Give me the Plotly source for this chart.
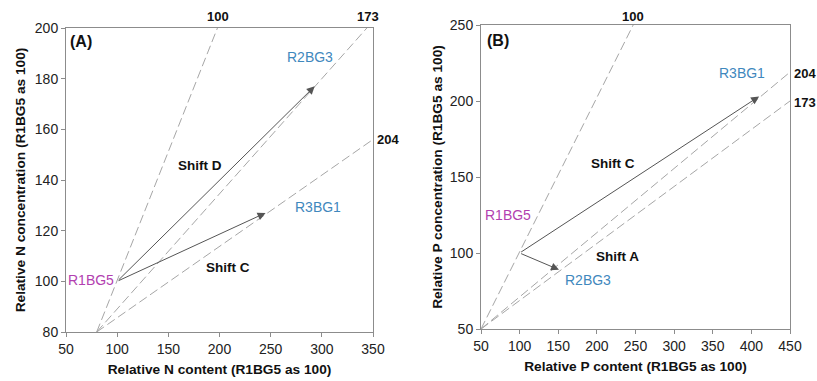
import plotly.graph_objects as go

# ---------------- data ----------------
# Panel A (N)
refA_labels = ["100", "173", "204"]
refA_x0, refA_y0 = 80, 80
refA_x1 = [198, 344, 350]
refA_y1 = [200, 200, 156]

start_A = (100, 100)
arrowA_names = ["R2BG3", "R3BG1"]
arrowA_x = [293, 245]
arrowA_y = [177, 127]

# Panel B (P)
refB_labels = ["100", "204", "173"]
refB_x0, refB_y0 = 50, 50
refB_x1 = [247, 450, 450]
refB_y1 = [250, 219, 200]

start_B = (100, 100)
arrowB_names = ["R3BG1", "R2BG3"]
arrowB_x = [410, 151]
arrowB_y = [203, 89]

xticksA = [50, 100, 150, 200, 250, 300, 350]
yticksA = [80, 100, 120, 140, 160, 180, 200]
xticksB = [50, 100, 150, 200, 250, 300, 350, 400, 450]
yticksB = [50, 100, 150, 200, 250]

RANGES = {"": ([50, 350], [80, 200]), "2": ([50, 450], [50, 250])}

FONT = "Liberation Sans, Arial, sans-serif"
DASH_COL = "#a6a6a6"
ARROW_COL = "#555555"
BLUE = "#3f88bd"
MAGENTA = "#b23fb0"

fig = go.Figure()

# reference dashed lines
for i in range(len(refA_labels)):
    fig.add_trace(go.Scatter(x=[refA_x0, refA_x1[i]], y=[refA_y0, refA_y1[i]],
                             mode="lines", line=dict(color=DASH_COL, width=1, dash="9px,4px"),
                             xaxis="x", yaxis="y", showlegend=False, hoverinfo="skip",
                             cliponaxis=False))
for i in range(len(refB_labels)):
    fig.add_trace(go.Scatter(x=[refB_x0, refB_x1[i]], y=[refB_y0, refB_y1[i]],
                             mode="lines", line=dict(color=DASH_COL, width=1, dash="9px,4px"),
                             xaxis="x2", yaxis="y2", showlegend=False, hoverinfo="skip",
                             cliponaxis=False))

ann = []
# arrows
for i in range(len(arrowA_names)):
    ann.append(dict(x=arrowA_x[i], y=arrowA_y[i], ax=start_A[0], ay=start_A[1],
                    xref="x", yref="y", axref="x", ayref="y", text="", showarrow=True,
                    arrowhead=2, arrowsize=1.6, arrowwidth=1, arrowcolor=ARROW_COL))
for i in range(len(arrowB_names)):
    ann.append(dict(x=arrowB_x[i], y=arrowB_y[i], ax=start_B[0], ay=start_B[1],
                    xref="x2", yref="y2", axref="x2", ayref="y2", text="", showarrow=True,
                    arrowhead=2, arrowsize=1.6, arrowwidth=1, arrowcolor=ARROW_COL))

def txt(x, y, t, ref, color="#111", bold=False, size=14, xanchor="center"):
    (x0, x1), (y0, y1) = RANGES[ref]
    fx = (x - x0) / (x1 - x0)
    fy = (y - y0) / (y1 - y0)
    axn = "x" + ref
    ayn = "y" + ref
    ann.append(dict(x=fx, y=fy, xref=axn + " domain", yref=ayn + " domain",
                    text=("<b>%s</b>" % t) if bold else t,
                    showarrow=False, xanchor=xanchor, yanchor="middle",
                    font=dict(family=FONT, size=size, color=color)))

# Panel A texts
txt(198.5, 204.7, refA_labels[0], "", bold=True, size=13)
txt(345, 204.7, refA_labels[1], "", bold=True, size=13)
txt(352, 155.8, refA_labels[2], "", bold=True, size=13, xanchor="left")
txt(52, 194.5, "(A)", "", bold=True, size=16, xanchor="left")
txt(288.4, 188.6, arrowA_names[0], "", color=BLUE)
txt(296, 129.3, arrowA_names[1], "", color=BLUE)
txt(99, 100.5, "R1BG5", "", color=MAGENTA, xanchor="right")
txt(181, 145.9, "Shift D", "", bold=True, size=13.5)
txt(208.3, 105.3, "Shift C", "", bold=True, size=13.5)

# Panel B texts
txt(246.8, 255.3, refB_labels[0], "2", bold=True, size=13)
txt(452.6, 218.4, refB_labels[1], "2", bold=True, size=13, xanchor="left")
txt(452.6, 199.3, refB_labels[2], "2", bold=True, size=13, xanchor="left")
txt(55, 239.5, "(B)", "2", bold=True, size=16, xanchor="left")
txt(387.9, 218.4, arrowB_names[0], "2", color=BLUE)
txt(188.5, 82.2, arrowB_names[1], "2", color=BLUE)
txt(85, 125, "R1BG5", "2", color=MAGENTA)
txt(220.9, 159.2, "Shift C", "2", bold=True, size=13.5)
txt(227.3, 97.4, "Shift A", "2", bold=True, size=13.5)

axis_common = dict(showline=True, linecolor="#8c8c8c", linewidth=1, mirror=True,
                   ticks="outside", ticklen=4, tickcolor="#8c8c8c", showgrid=False,
                   zeroline=False, automargin=False,
                   tickfont=dict(family=FONT, size=14, color="#222"),
                   title_font=dict(family=FONT, size=13.7, color="#111"))

fig.update_layout(
    width=817, height=381, margin=dict(l=0, r=0, t=0, b=0),
    paper_bgcolor="white", plot_bgcolor="white", showlegend=False,
    xaxis=dict(domain=[66/817, 373/817], range=RANGES[""][0], tickvals=xticksA,
               title=dict(text="<b>Relative N content (R1BG5 as 100)</b>", standoff=8),
               anchor="y", **axis_common),
    yaxis=dict(domain=[1-332/381, 1-28/381], range=RANGES[""][1], tickvals=yticksA,
               title=dict(text="<b>Relative N concentration (R1BG5 as 100)</b>", standoff=6),
               anchor="x", **axis_common),
    xaxis2=dict(domain=[481/817, 790/817], range=RANGES["2"][0], tickvals=xticksB,
                title=dict(text="<b>Relative P content (R1BG5 as 100)</b>", standoff=8),
                anchor="y2", **axis_common),
    yaxis2=dict(domain=[1-329/381, 1-25/381], range=RANGES["2"][1], tickvals=yticksB,
                title=dict(text="<b>Relative P concentration (R1BG5 as 100)</b>", standoff=4),
                anchor="x2", **axis_common),
    annotations=ann,
)

fig.write_html("out.html", config={"displayModeBar": False},
               post_script="document.body.style.margin='0';document.body.style.overflow='hidden';")
